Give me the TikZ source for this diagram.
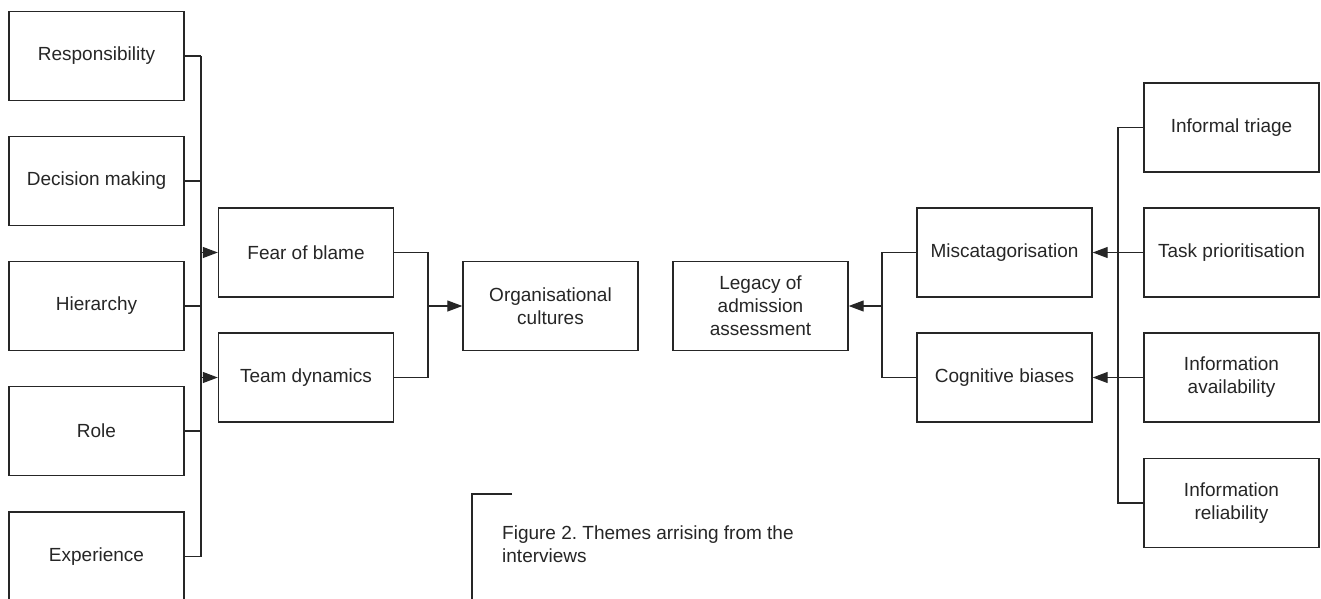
\documentclass[tikz,border=0pt]{standalone}
\usepackage{fontspec}
\setmainfont{Liberation Sans}
\usetikzlibrary{arrows.meta}
\definecolor{ink}{HTML}{262626}
\frenchspacing
\begin{document}
\begin{tikzpicture}[x=1pt,y=-1pt,
  box/.style={draw=ink, line width=1.4pt, minimum width=175pt, minimum height=89pt,
    inner sep=0pt, align=center, font=\fontsize{19}{23}\selectfont, text=ink},
  conn/.style={draw=ink, line width=1.2pt},
  arr/.style={conn, -{Triangle[length=15pt,width=11pt]}},
  caption/.style={anchor=north west, align=left, inner sep=0pt,
    font=\fontsize{19}{22.5}\selectfont, text=ink}]
\useasboundingbox (0,0) rectangle (1321,598);
\fill[white] (0,0) rectangle (1321,598);

% left column
\node[box] (resp) at (96.5,56) {Responsibility};
\node[box] (dec)  at (96.5,181) {Decision making};
\node[box] (hier) at (96.5,306) {Hierarchy};
\node[box] (role) at (96.5,431) {Role};
\node[box] (exp)  at (96.5,556.5) {Experience};

% second column
\node[box] (fear) at (306,252.5) {Fear of blame};
\node[box] (team) at (306,377.5) {Team dynamics};

% centre
\node[box] (org) at (550.5,306) {Organisational\\cultures};
\node[box] (leg) at (760.5,306) {Legacy of\\admission\\assessment};

% right side
\node[box] (misc) at (1004.5,252.5) {Miscatagorisation};
\node[box] (cog)  at (1004.5,377.5) {Cognitive biases};

\node[box] (tri)   at (1231.5,127.5) {Informal triage};
\node[box] (task)  at (1231.5,252.5) {Task prioritisation};
\node[box] (avail) at (1231.5,377.5) {Information\\availability};
\node[box] (rel)   at (1231.5,503) {Information\\reliability};

% bus coordinates
\coordinate (busA) at (201,0);
\coordinate (busB) at (428,0);
\coordinate (busC) at (882,0);
\coordinate (busD) at (1118,0);

% left bus
\foreach \n in {resp,dec,hier,role,exp}
  \draw[conn] (\n.east) -- (\n.east -| busA);
\draw[conn] (resp.east -| busA) -- (exp.east -| busA);
\draw[arr] (fear.west -| busA) -- (fear.west);
\draw[arr] (team.west -| busA) -- (team.west);

% second bus
\draw[conn] (fear.east) -| (team.east -| busB) -- (team.east);
\draw[arr] (org.west -| busB) -- (org.west);

% right-centre bus
\draw[conn] (misc.west) -| (cog.west -| busC) -- (cog.west);
\draw[arr] (leg.east -| busC) -- (leg.east);

% right bus
\draw[conn] (tri.west) -| (rel.west -| busD) -- (rel.west);
\draw[conn] (task.west) -- (task.west -| busD);
\draw[conn] (avail.west) -- (avail.west -| busD);
\draw[arr] (task.west -| busD) -- (misc.east);
\draw[arr] (avail.west -| busD) -- (cog.east);

% caption
\coordinate (capc) at (472,494);
\draw[conn] (512,494) -- (capc) -- (472,605);
\node[caption] (cap) at (502,526) {Figure 2. Themes arrising from the\\interviews};
\end{tikzpicture}
\end{document}
